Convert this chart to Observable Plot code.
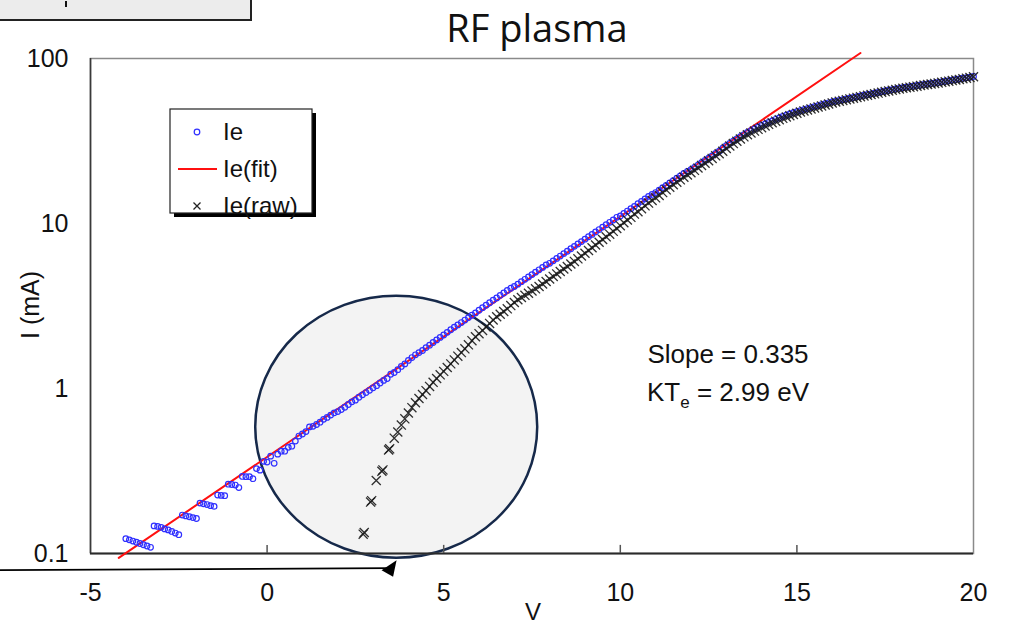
<!DOCTYPE html>
<html><head><meta charset="utf-8">
<script src="https://cdn.jsdelivr.net/npm/d3@7"></script>
<script src="https://cdn.jsdelivr.net/npm/@observablehq/plot@0.6"></script>
<style>
html,body{margin:0;padding:0;background:#fff;}
#wrap{position:relative;width:1012px;height:626px;overflow:hidden;}
#topbox{position:absolute;left:-3px;top:-3px;width:251px;height:20px;background:#ececec;border:2px solid #222;}
#topbox span{position:absolute;left:66px;top:2px;width:2px;height:6px;background:#111;}
#wrap svg{position:absolute;left:0;top:0;}
</style></head><body><div id="wrap"><div id="topbox"><span></span></div></div>
<script>
// ---- data ----
const titleText = "RF plasma";
const xLabel = "V";
const yLabel = "I (mA)";
const xTicks = [-5, 0, 5, 10, 15, 20];
const xTickLabels = ["-5", "0", "5", "10", "15", "20"];
const yTicks = [0.1, 1, 10, 100];
const yTickLabels = ["0.1", "1", "10", "100"];
const seriesNames = ["Ie", "Ie(fit)", "Ie(raw)"];
const slopeText = "Slope = 0.335";
const kteValue = "2.99 eV";

// probe voltage sweep (V)
const volts = [
-4,-3.9,-3.8,-3.7,-3.6,-3.5,-3.4,-3.3,-3.2,-3.1,
-3,-2.9,-2.8,-2.7,-2.6,-2.5,-2.4,-2.3,-2.2,-2.1,
-2,-1.9,-1.8,-1.7,-1.6,-1.5,-1.4,-1.3,-1.2,-1.1,
-1,-0.9,-0.8,-0.7,-0.6,-0.5,-0.4,-0.3,-0.2,-0.1,
0,0.1,0.2,0.3,0.4,0.5,0.6,0.7,0.8,0.9,
1,1.1,1.2,1.3,1.4,1.5,1.6,1.7,1.8,1.9,
2,2.1,2.2,2.3,2.4,2.5,2.6,2.7,2.8,2.9,
3,3.1,3.2,3.3,3.4,3.5,3.6,3.7,3.8,3.9,
4,4.1,4.2,4.3,4.4,4.5,4.6,4.7,4.8,4.9,
5,5.1,5.2,5.3,5.4,5.5,5.6,5.7,5.8,5.9,
6,6.1,6.2,6.3,6.4,6.5,6.6,6.7,6.8,6.9,
7,7.1,7.2,7.3,7.4,7.5,7.6,7.7,7.8,7.9,
8,8.1,8.2,8.3,8.4,8.5,8.6,8.7,8.8,8.9,
9,9.1,9.2,9.3,9.4,9.5,9.6,9.7,9.8,9.9,
10,10.1,10.2,10.3,10.4,10.5,10.6,10.7,10.8,10.9,
11,11.1,11.2,11.3,11.4,11.5,11.6,11.7,11.8,11.9,
12,12.1,12.2,12.3,12.4,12.5,12.6,12.7,12.8,12.9,
13,13.1,13.2,13.3,13.4,13.5,13.6,13.7,13.8,13.9,
14,14.1,14.2,14.3,14.4,14.5,14.6,14.7,14.8,14.9,
15,15.1,15.2,15.3,15.4,15.5,15.6,15.7,15.8,15.9,
16,16.1,16.2,16.3,16.4,16.5,16.6,16.7,16.8,16.9,
17,17.1,17.2,17.3,17.4,17.5,17.6,17.7,17.8,17.9,
18,18.1,18.2,18.3,18.4,18.5,18.6,18.7,18.8,18.9,
19,19.1,19.2,19.3,19.4,19.5,19.6,19.7,19.8,19.9,
20];

// Ie (mA), one per sweep voltage
const ie = [
0.123,0.121,0.119,0.117,0.115,0.113,0.111,0.109,0.147,0.146,
0.144,0.141,0.139,0.136,0.133,0.130,0.171,0.169,0.167,0.165,
0.163,0.202,0.200,0.198,0.195,0.193,0.226,0.225,0.224,0.263,
0.262,0.260,0.251,0.293,0.292,0.292,0.284,0.327,0.320,0.362,
0.358,0.389,0.352,0.400,0.417,0.417,0.440,0.447,0.480,0.515,
0.530,0.548,0.585,0.590,0.605,0.625,0.650,0.668,0.690,0.712,
0.725,0.745,0.770,0.800,0.830,0.850,0.885,0.915,0.945,0.975,
1.01,1.04,1.08,1.12,1.15,1.22,1.25,1.30,1.36,1.41,
1.48,1.54,1.60,1.65,1.70,1.77,1.83,1.90,1.97,2.04,
2.11,2.19,2.27,2.35,2.43,2.51,2.60,2.69,2.78,2.87,
2.98,3.09,3.20,3.31,3.43,3.54,3.67,3.79,3.93,4.05,
4.15,4.29,4.44,4.59,4.74,4.90,5.07,5.24,5.42,5.61,
5.74,5.94,6.14,6.35,6.57,6.79,7.03,7.27,7.51,7.77,
8.04,8.31,8.59,8.89,9.19,9.51,9.83,10.17,10.5,10.9,
11.1,11.5,11.9,12.3,12.7,13.2,13.6,14.1,14.6,15.0,
15.4,15.9,16.5,17.0,17.6,18.2,18.8,19.4,20.1,20.7,
21.2,21.9,22.6,23.4,24.1,24.9,25.7,26.6,27.4,28.6,
29.6,30.6,31.6,32.6,33.6,34.6,35.6,36.6,37.5,38.4,
39.3,40.1,41.0,41.9,42.8,43.6,44.5,45.3,46.1,46.9,
47.6,48.3,49.0,49.7,50.4,51.1,51.8,52.5,53.2,53.9,
54.6,55.2,55.8,56.3,56.9,57.5,58.1,58.7,59.3,59.9,
60.5,61.1,61.7,62.3,63.0,63.6,64.2,64.8,65.4,66.0,
66.6,67.1,67.6,68.1,68.6,69.1,69.6,70.1,70.6,71.1,
71.6,72.2,72.8,73.4,74.0,74.6,75.2,75.9,76.5,77.1,
77.8];

// Ie(raw) (mA), aligned with the sweep; null where no raw point is drawn
const ieRaw = [
null,null,null,null,null,null,null,null,null,null,
null,null,null,null,null,null,null,null,null,null,
null,null,null,null,null,null,null,null,null,null,
null,null,null,null,null,null,null,null,null,null,
null,null,null,null,null,null,null,null,null,null,
null,null,null,null,null,null,null,null,null,null,
null,null,null,null,null,null,null,null,null,null,
null,null,null,null,null,null,0.50,0.545,0.60,0.655,
0.71,0.765,0.82,0.87,0.92,0.97,1.03,1.09,1.15,1.21,
1.27,1.34,1.41,1.49,1.57,1.65,1.74,1.84,1.95,2.06,
2.15,2.25,2.36,2.48,2.60,2.72,2.82,2.93,3.04,3.18,
3.32,3.45,3.56,3.67,3.78,3.90,4.02,4.15,4.30,4.45,
4.61,4.78,4.95,5.12,5.30,5.49,5.68,5.89,6.11,6.35,
6.60,6.86,7.13,7.41,7.70,8.00,8.30,8.62,8.96,9.32,
9.70,10.1,10.5,10.9,11.4,11.8,12.3,12.8,13.3,13.8,
14.3,14.8,15.4,16.0,16.6,17.2,17.8,18.4,19.1,19.7,
20.3,21.0,21.7,22.5,23.2,24.0,24.8,25.7,26.5,27.4,
28.5,29.5,30.5,31.5,32.5,33.5,34.5,35.4,36.3,37.2,
38.1,39.0,39.9,40.8,41.7,42.6,43.4,44.2,45.0,45.8,
46.6,47.4,48.1,48.8,49.5,50.2,50.9,51.6,52.3,53.0,
53.8,54.5,55.1,55.7,56.3,56.9,57.5,58.1,58.7,59.3,
59.9,60.5,61.1,61.7,62.4,63.0,63.6,64.2,64.8,65.4,
66.0,66.5,67.0,67.5,68.0,68.6,69.1,69.6,70.1,70.6,
71.1,71.7,72.3,72.9,73.5,74.1,74.7,75.4,76.0,76.7,
77.5];

// the first, isolated raw points (double-struck crosses)
const rawEarlyV = [2.72, 2.75, 2.93, 2.96, 3.09, 3.25, 3.28, 3.44, 3.47];
const rawEarlyI = [0.131, 0.134, 0.205, 0.209, 0.277, 0.315, 0.321, 0.424, 0.431];

// fitted line endpoints
const fitV = [-4.2, 16.8];
const fitI = [0.094, 108];

// annotation anchors in data units
const ellipseCenterV = 3.67, ellipseCenterI = 0.583;
const arrowTipV = 3.68, arrowTipI = 0.0905;

// ---- layout ----
const W = 1012, H = 626, mL = 90, mR = 39, mT = 58, mB = 73;
const FONT = "'Liberation Sans', Arial, Helvetica, sans-serif";

const ieRows = volts.map((v, i) => ({V: v, I: ie[i]}));
const rawRows = rawEarlyV.map((v, i) => ({V: v, I: rawEarlyI[i]}))
  .concat(volts.map((v, i) => ({V: v, I: ieRaw[i]})).filter(d => d.I != null));
const fitRows = fitV.map((v, i) => ({V: v, I: fitI[i]}));

const plot = Plot.plot({
  width: W, height: H,
  marginLeft: mL, marginRight: mR, marginTop: mT, marginBottom: mB,
  style: {fontFamily: FONT, fontSize: "25px", color: "#111", background: "transparent", overflow: "visible"},
  x: {domain: [-5, 20], ticks: xTicks, tickFormat: d => xTickLabels[xTicks.indexOf(d)], tickSize: 0, tickPadding: 30, label: null},
  y: {type: "log", domain: [0.1, 100], ticks: yTicks, tickFormat: d => yTickLabels[yTicks.indexOf(d)], tickSize: 0, tickPadding: 22, label: null},
  marks: [
    Plot.frame({stroke: "#8a8a8a", strokeWidth: 1.5}),
    Plot.ruleX([-5], {stroke: "#3a3a3a", strokeWidth: 1.6}),
    Plot.ruleY([0.1], {stroke: "#2a2a2a", strokeWidth: 2}),
    Plot.ruleX(xTicks.slice(1, -1), {y1: 0.1, y2: 0.112, stroke: "#555", strokeWidth: 1.5}),
    Plot.line(fitRows, {x: "V", y: "I", stroke: "#ff1010", strokeWidth: 2}),
    Plot.dot(ieRows, {x: "V", y: "I", r: 2.8, stroke: "#2f2fff", strokeWidth: 1.2, fill: "none"}),
    Plot.dot(rawRows, {x: "V", y: "I", symbol: "times", r: 4.2, stroke: "#1a1a1a", strokeWidth: 1.3, strokeOpacity: 0.9})
  ]
});
document.getElementById("wrap").insertBefore(plot, document.getElementById("topbox"));

const xs = d3.scaleLinear([-5, 20], [mL, W - mR]);
const ys = d3.scaleLog([0.1, 100], [H - mB, mT]);
const svg = d3.select(plot);

// highlight ellipse (behind everything)
svg.insert("ellipse", "g")
  .attr("cx", xs(ellipseCenterV)).attr("cy", ys(ellipseCenterI))
  .attr("rx", 141).attr("ry", 131)
  .attr("fill", "#f3f3f3").attr("stroke", "#16294a").attr("stroke-width", 2.5);

// arrow
const tipX = xs(arrowTipV), tipY = ys(arrowTipI);
svg.append("line").attr("x1", 0).attr("y1", tipY + 10).attr("x2", tipX - 8).attr("y2", tipY + 8)
  .attr("stroke", "#000").attr("stroke-width", 1.6);
svg.append("path")
  .attr("d", `M${tipX},${tipY} L${tipX - 15},${tipY + 10} L${tipX - 3.5},${tipY + 16.5} Z`)
  .attr("fill", "#000");

// title
svg.append("text").attr("x", 537).attr("y", 42).attr("text-anchor", "middle")
  .attr("font-family", "'Open Sans', sans-serif").attr("font-size", 38).attr("fill", "#111").text(titleText);

// axis labels
svg.append("text").attr("x", 533).attr("y", 620).attr("text-anchor", "middle")
  .attr("font-size", 24).attr("fill", "#111").text(xLabel);
svg.append("text").attr("transform", "translate(39,305) rotate(-90)").attr("text-anchor", "middle")
  .attr("font-size", 25).attr("fill", "#111").text(yLabel);

// legend
const lg = svg.append("g").attr("font-size", 24).attr("fill", "#111").attr("text-anchor", "start");
lg.append("rect").attr("x", 174).attr("y", 113).attr("width", 142).attr("height", 104).attr("fill", "#000");
lg.append("rect").attr("x", 170).attr("y", 109).attr("width", 142).attr("height", 104)
  .attr("fill", "#fff").attr("stroke", "#222").attr("stroke-width", 1.2);
lg.append("circle").attr("cx", 197).attr("cy", 132).attr("r", 2.8).attr("fill", "none").attr("stroke", "#2f2fff").attr("stroke-width", 1.2);
lg.append("line").attr("x1", 178).attr("x2", 217).attr("y1", 169).attr("y2", 169).attr("stroke", "#ff1010").attr("stroke-width", 2);
lg.append("path").attr("d", "M193.5,202.5L200.5,209.5M193.5,209.5L200.5,202.5").attr("stroke", "#222").attr("stroke-width", 1.3);
[[132, seriesNames[0]], [169, seriesNames[1]], [206, seriesNames[2]]].forEach(([y, t]) =>
  lg.append("text").attr("x", 223).attr("y", y).attr("dy", "0.35em").attr("text-anchor", "start").text(t));

// slope annotation
const an = svg.append("g").attr("font-size", 26).attr("fill", "#111").attr("text-anchor", "middle");
an.append("text").attr("x", 728).attr("y", 363).text(slopeText);
const t2 = an.append("text").attr("x", 728).attr("y", 401);
t2.append("tspan").text("KT");
t2.append("tspan").attr("font-size", 17).attr("dy", 7).text("e");
t2.append("tspan").attr("dy", -7).text(" = " + kteValue);
</script></body></html>
